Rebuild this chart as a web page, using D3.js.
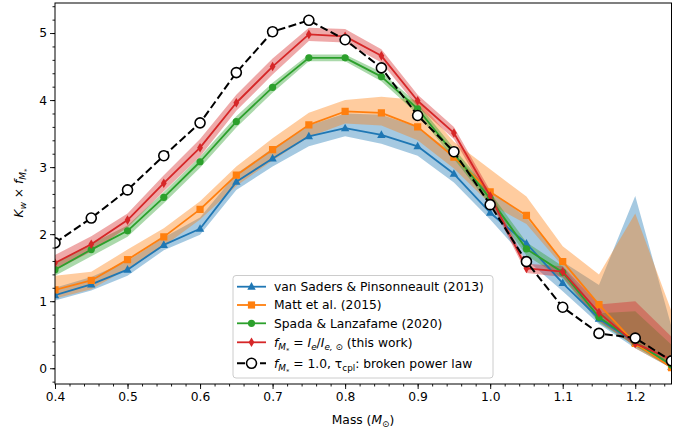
<!DOCTYPE html>
<html>
<head>
<meta charset="utf-8">
<script src="https://cdn.jsdelivr.net/npm/d3@7"></script>
<style>
  html, body { margin: 0; padding: 0; background: #fff; }
  svg { display: block; font-family: "DejaVu Sans", sans-serif; }
</style>
</head>
<body>
<svg id="chart" width="691" height="433"></svg>
<script>
// Stellar mass grid (solar masses)
const masses = [0.4, 0.45, 0.5, 0.55, 0.6, 0.65, 0.7, 0.75, 0.8, 0.85, 0.9, 0.95, 1.0, 1.05, 1.1, 1.15, 1.2, 1.25];

// van Saders & Pinsonneault (2013)
const vsValues = [1.09, 1.25, 1.47, 1.84, 2.08, 2.78, 3.13, 3.46, 3.58, 3.48, 3.31, 2.90, 2.32, 1.86, 1.27, 0.74, 0.38, 0.02];
const vsLower  = [1.01, 1.16, 1.38, 1.76, 1.99, 2.66, 3.01, 3.31, 3.46, 3.35, 3.17, 2.77, 2.22, 1.62, 1.15, 0.66, 0.30, 0.00];
const vsUpper  = [1.20, 1.36, 1.60, 1.95, 2.25, 2.90, 3.28, 3.62, 3.80, 3.78, 3.60, 3.20, 2.65, 2.25, 1.59, 1.24, 2.57, 0.62];

// Matt et al. (2015)
const mattValues = [1.17, 1.31, 1.62, 1.96, 2.37, 2.88, 3.26, 3.63, 3.83, 3.81, 3.60, 3.15, 2.63, 2.28, 1.59, 0.95, 0.37, 0.01];
const mattLower  = [1.04, 1.18, 1.48, 1.82, 2.22, 2.72, 3.10, 3.45, 3.65, 3.62, 3.40, 2.98, 2.45, 2.15, 1.52, 0.82, 0.30, 0.00];
const mattUpper  = [1.38, 1.44, 1.77, 2.09, 2.49, 3.01, 3.43, 3.81, 4.00, 4.05, 4.00, 3.38, 2.97, 2.56, 1.82, 1.40, 2.31, 0.85];

// Spada & Lanzafame (2020)
const spadaValues = [1.47, 1.77, 2.05, 2.55, 3.08, 3.68, 4.19, 4.63, 4.63, 4.35, 3.87, 3.20, 2.53, 1.78, 1.43, 0.76, 0.39, 0.05];
const spadaLower  = [1.38, 1.67, 1.96, 2.46, 2.99, 3.59, 4.11, 4.58, 4.58, 4.28, 3.79, 3.12, 2.44, 1.68, 1.34, 0.68, 0.33, 0.00];
const spadaUpper  = [1.56, 1.86, 2.13, 2.63, 3.16, 3.76, 4.26, 4.68, 4.68, 4.42, 3.95, 3.28, 2.62, 1.88, 1.52, 0.82, 0.85, 0.35];

// f_M* = I_e / I_e,sun (this work)
const thisValues = [1.57, 1.85, 2.21, 2.76, 3.29, 3.96, 4.50, 4.98, 4.95, 4.66, 3.99, 3.51, 2.57, 1.49, 1.44, 0.83, 0.37, 0.13];
const thisLower  = [1.46, 1.74, 2.10, 2.64, 3.16, 3.84, 4.38, 4.88, 4.86, 4.56, 3.90, 3.42, 2.49, 1.42, 1.36, 0.70, 0.33, 0.08];
const thisUpper  = [1.69, 1.97, 2.31, 2.88, 3.42, 4.08, 4.62, 5.08, 5.06, 4.76, 4.08, 3.60, 2.65, 1.56, 1.52, 0.95, 1.00, 0.47];

// f_M* = 1.0 with broken power-law coupling time
const brokenValues = [1.87, 2.24, 2.66, 3.17, 3.66, 4.41, 5.02, 5.19, 4.90, 4.48, 3.77, 3.23, 2.44, 1.59, 0.91, 0.52, 0.45, 0.11];

// Axis ticks
const xTicks = [0.4, 0.5, 0.6, 0.7, 0.8, 0.9, 1.0, 1.1, 1.2];
const xTickLabels = ["0.4", "0.5", "0.6", "0.7", "0.8", "0.9", "1.0", "1.1", "1.2"];
const yTicks = [0, 1, 2, 3, 4, 5];
const yTickLabels = ["0", "1", "2", "3", "4", "5"];

const FS = 12.3;
const svg = d3.select("#chart");
const L = 55, R = 671.5, T = 3, B = 384;
const x = d3.scaleLinear().domain([0.4, 1.25]).range([L, R]);
const y = d3.scaleLinear().domain([-0.235, 5.448]).range([B, T]);

svg.append("defs").append("clipPath").attr("id", "plotclip")
  .append("rect").attr("x", L).attr("y", T).attr("width", R - L).attr("height", B - T);

const plot = svg.append("g").attr("clip-path", "url(#plotclip)");

const series = [
  { name: "vs", color: "#1f77b4", vals: vsValues, lo: vsLower, hi: vsUpper, marker: "triangle" },
  { name: "matt", color: "#ff7f0e", vals: mattValues, lo: mattLower, hi: mattUpper, marker: "square" },
  { name: "spada", color: "#2ca02c", vals: spadaValues, lo: spadaLower, hi: spadaUpper, marker: "circle" },
  { name: "this", color: "#d62728", vals: thisValues, lo: thisLower, hi: thisUpper, marker: "thin_diamond" }
];

const area = d3.area().x((d, i) => x(masses[i])).y0(d => y(d[0])).y1(d => y(d[1]));
const line = d3.line().x((d, i) => x(masses[i])).y(d => y(d));

// Uncertainty bands
series.forEach(s => {
  plot.append("path")
    .datum(s.lo.map((v, i) => [v, s.hi[i]]))
    .attr("d", area)
    .attr("fill", s.color)
    .attr("fill-opacity", 0.4)
    .attr("stroke", "none");
});

function markerPath(kind) {
  switch (kind) {
    case "triangle": return "M0,-4.6L4.2,3L-4.2,3Z";
    case "square": return "M-3.6,-3.6H3.6V3.6H-3.6Z";
    case "thin_diamond": return "M0,-4.8L2.9,0L0,4.8L-2.9,0Z";
    default: return null;
  }
}

function drawMarker(g, kind, color, cx, cy) {
  if (kind === "circle") {
    g.append("circle").attr("cx", cx).attr("cy", cy).attr("r", 3.6).attr("fill", color);
  } else if (kind === "open") {
    g.append("circle").attr("cx", cx).attr("cy", cy).attr("r", 5)
      .attr("fill", "#fff").attr("stroke", "#000").attr("stroke-width", 1.6);
  } else {
    g.append("path").attr("d", markerPath(kind))
      .attr("transform", `translate(${cx},${cy})`).attr("fill", color);
  }
}

// Series lines and markers
series.forEach(s => {
  plot.append("path").datum(s.vals).attr("d", line)
    .attr("fill", "none").attr("stroke", s.color).attr("stroke-width", 1.8)
    .attr("stroke-linejoin", "round");
  const g = plot.append("g");
  s.vals.forEach((v, i) => drawMarker(g, s.marker, s.color, x(masses[i]), y(v)));
});

plot.append("path").datum(brokenValues).attr("d", line)
  .attr("fill", "none").attr("stroke", "#000").attr("stroke-width", 2)
  .attr("stroke-dasharray", "8,3.5");
const gb = plot.append("g");
brokenValues.forEach((v, i) => drawMarker(gb, "open", "#000", x(masses[i]), y(v)));

// Axes
const xAxis = d3.axisBottom(x).tickValues(xTicks).tickFormat((d, i) => xTickLabels[i]).tickSize(5).tickPadding(3);
const xMinor = d3.axisBottom(x).tickValues(d3.range(0, 43).map(k => 0.4 + k * 0.02).filter(v => v <= 1.2501)).tickFormat("").tickSize(2.5);
const yAxis = d3.axisLeft(y).tickValues(yTicks).tickFormat((d, i) => yTickLabels[i]).tickSize(5).tickPadding(3);
const yMinor = d3.axisLeft(y).tickValues(d3.range(-1, 28).map(k => k * 0.2)).tickFormat("").tickSize(2.5);

function styleAxis(g) {
  g.select(".domain").remove();
  g.selectAll("line").attr("stroke", "#000").attr("stroke-width", 0.9);
  g.selectAll("text").attr("font-family", "DejaVu Sans, sans-serif").attr("font-size", FS).attr("fill", "#000");
}
svg.append("g").attr("transform", `translate(0,${B})`).call(xMinor).call(styleAxis);
svg.append("g").attr("transform", `translate(0,${B})`).call(xAxis).call(styleAxis);
svg.append("g").attr("transform", `translate(${L},0)`).call(yMinor).call(styleAxis);
svg.append("g").attr("transform", `translate(${L},0)`).call(yAxis).call(styleAxis);

// Frame
svg.append("rect").attr("x", L).attr("y", T).attr("width", R - L).attr("height", B - T)
  .attr("fill", "none").attr("stroke", "#000").attr("stroke-width", 1);

// Rich text helper: segments with italic and subscript levels
function richText(parent, segs, size) {
  const t = parent.append("text").attr("font-size", size).attr("fill", "#000");
  let level = 0;
  segs.forEach(s => {
    const lv = s.sub || 0;
    const shift = (lv - level) * size * 0.26;
    const fs = lv === 0 ? size : (lv === 1 ? size * 0.72 : size * 0.55);
    const sp = t.append("tspan").text(s.t).attr("font-size", fs);
    if (shift !== 0) sp.attr("dy", shift);
    if (s.it) sp.attr("font-style", "italic");
    level = lv;
  });
  return t;
}

// Axis labels
const xl = svg.append("g").attr("transform", "translate(363,424)");
richText(xl, [{ t: "Mass (" }, { t: "M", it: true }, { t: "⊙", sub: 1 }, { t: ")", sub: 0 }], FS)
  .attr("text-anchor", "middle");

const yl = svg.append("g").attr("transform", "translate(23,193) rotate(-90)");
richText(yl, [{ t: "K", it: true }, { t: "w", it: true, sub: 1 }, { t: " × ", sub: 0 }, { t: "f", it: true },
  { t: "M", it: true, sub: 1 }, { t: "*", sub: 2 }], FS).attr("text-anchor", "middle");

// Legend
const lg = svg.append("g");
lg.append("rect").attr("x", 233).attr("y", 275.5).attr("width", 260).attr("height", 102.5).attr("rx", 3)
  .attr("fill", "#fff").attr("fill-opacity", 0.8).attr("stroke", "#cccccc").attr("stroke-width", 1);

const legendRows = [
  { y: 286.7, color: "#1f77b4", marker: "triangle", segs: [{ t: "van Saders & Pinsonneault (2013)" }] },
  { y: 305, color: "#ff7f0e", marker: "square", segs: [{ t: "Matt et al. (2015)" }] },
  { y: 323.3, color: "#2ca02c", marker: "circle", segs: [{ t: "Spada & Lanzafame (2020)" }] },
  { y: 342.3, color: "#d62728", marker: "thin_diamond", segs: [
    { t: "f", it: true }, { t: "M", it: true, sub: 1 }, { t: "*", sub: 2 }, { t: " = ", sub: 0 },
    { t: "I", it: true }, { t: "e", it: true, sub: 1 }, { t: "/", sub: 0 }, { t: "I", it: true },
    { t: "e, ⊙", it: true, sub: 1 }, { t: "  (this work)", sub: 0 }] },
  { y: 363.3, color: "#000", marker: "open", dashed: true, segs: [
    { t: "f", it: true }, { t: "M", it: true, sub: 1 }, { t: "*", sub: 2 }, { t: " = 1.0, ", sub: 0 },
    { t: "τ" }, { t: "cpl", sub: 1 }, { t: ": broken power law", sub: 0 }] }
];

legendRows.forEach(r => {
  if (r.dashed) {
    lg.append("line").attr("x1", 237).attr("x2", 266).attr("y1", r.y).attr("y2", r.y)
      .attr("stroke", "#000").attr("stroke-width", 2).attr("stroke-dasharray", "8,3.5");
  } else {
    lg.append("line").attr("x1", 237).attr("x2", 266).attr("y1", r.y).attr("y2", r.y)
      .attr("stroke", r.color).attr("stroke-width", 1.8);
  }
  drawMarker(lg, r.marker, r.color, 251.5, r.y);
  richText(lg.append("g").attr("transform", `translate(274,${r.y + 4.3})`), r.segs, FS);
});
</script>
</body>
</html>
